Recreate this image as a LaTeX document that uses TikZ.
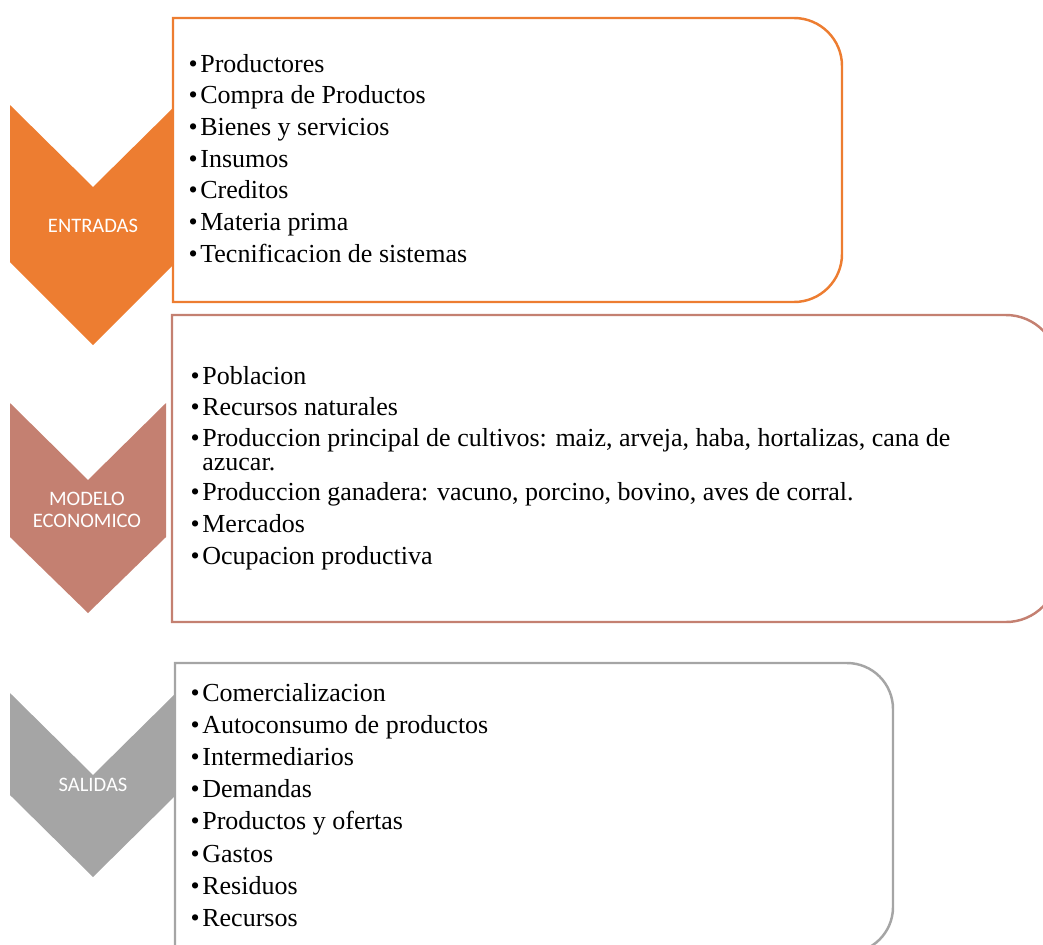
\documentclass[tikz,border=0pt]{standalone}
\usepackage{fontspec}
\setmainfont{Liberation Serif}
\newfontfamily\chevronfont{Carlito}
\usetikzlibrary{positioning}
\definecolor{entradaorange}{RGB}{237,125,49}
\definecolor{modelobrown}{RGB}{196,128,113}
\definecolor{salidagray}{RGB}{165,165,165}
\newcommand{\itemsize}{\fontsize{14.8pt}{17pt}\selectfont}
\newcommand{\bul}{\llap{•\hspace{1.5pt}}}

\begin{document}
\begin{tikzpicture}[x=0.02cm,y=-0.02cm,
  chevlabel/.style={text=white,inner sep=0pt,align=center,
    font=\chevronfont\fontsize{11.7pt}{12.5pt}\selectfont},
  listitem/.style={anchor=base west,inner sep=0pt,font=\itemsize},
  boxline/.style={line width=1.4pt,fill=white}]
  \useasboundingbox (0,0) rectangle (1043,944);
  \clip (0,0) rectangle (1043,944);
  % entradas
  \fill[entradaorange] (10,105) -- (93,187) -- (176,105) -- (176,262)
    -- (93,345) -- (10,262) -- cycle;
  \draw[boxline,draw=entradaorange] (173,18) -- (794,18)
    arc[start angle=90,end angle=0,radius=0.96cm] -- (842,254)
    arc[start angle=0,end angle=-90,radius=0.96cm] -- (173,302) -- cycle;
  \node[chevlabel] (entradas) at (93,225.5) {ENTRADAS};
  \foreach \txt [count=\i] in {Productores,Compra de Productos,
      Bienes y servicios,Insumos,Creditos,Materia prima,
      Tecnificacion de sistemas}
    \node[listitem] (ent\i) at (200,{72+31.7*(\i-1)}) {\bul\txt};
  % modelo economico
  \fill[modelobrown] (10,403) -- (88,480) -- (166,403) -- (166,537)
    -- (88,613) -- (10,537) -- cycle;
  \draw[boxline,draw=modelobrown] (172,315) -- (1006,315)
    arc[start angle=90,end angle=0,radius=1.04cm] -- (1058,570)
    arc[start angle=0,end angle=-90,radius=1.04cm] -- (172,622) -- cycle;
  \node[chevlabel] (modelo) at (87,509.5) {MODELO\\ECONOMICO};
  \foreach \yy/\txt [count=\i] in {384/Poblacion,415.5/Recursos naturales,
      {446/Produccion principal de cultivos: maiz, arveja, haba, hortalizas, cana de},
      {500.5/Produccion ganadera: vacuno, porcino, bovino, aves de corral.},
      532/Mercados,564/Ocupacion productiva}
    \node[listitem] (mod\i) at (202,\yy) {\bul\txt};
  \node[listitem] (mod3b) at (202,470) {azucar.};
  % salidas
  \fill[salidagray] (10,693) -- (93,775) -- (176,693) -- (176,795)
    -- (93,877) -- (10,795) -- cycle;
  \draw[boxline,draw=salidagray] (175,663) -- (847,663)
    arc[start angle=90,end angle=0,radius=0.92cm] -- (893,907)
    arc[start angle=0,end angle=-90,radius=0.92cm] -- (175,953) -- cycle;
  \node[chevlabel] (salidas) at (93,785) {SALIDAS};
  \foreach \txt [count=\i] in {Comercializacion,Autoconsumo de productos,
      Intermediarios,Demandas,Productos y ofertas,Gastos,Residuos,Recursos}
    \node[listitem] (sal\i) at (202,{701+32.2*(\i-1)}) {\bul\txt};
\end{tikzpicture}
\end{document}
